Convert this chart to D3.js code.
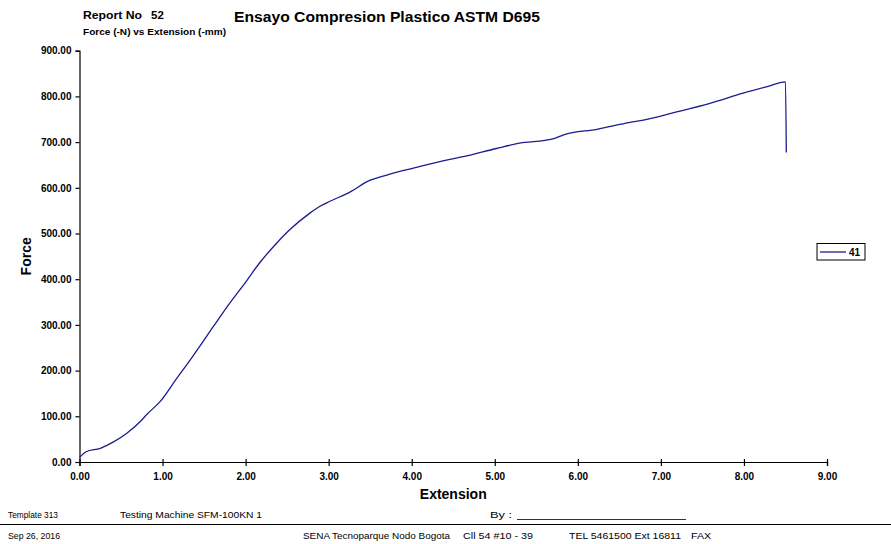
<!DOCTYPE html>
<html>
<head>
<meta charset="utf-8">
<script src="https://cdn.jsdelivr.net/npm/d3@7"></script>
<style>
  body { margin: 0; background: #fff; }
  svg { display: block; font-family: "Liberation Sans", Arial, sans-serif; }
  .tick text { font-weight: bold; font-size: 10px; fill: #000; }
  .domain, .tick line { stroke: #000; stroke-width: 1.2; }
  .foot { font-size: 9px; fill: #000; }
</style>
</head>
<body>
<div class="chart"></div>
<script>
// test 41
const extension = [0, 0.08, 0.25, 0.41, 0.57, 0.75, 0.81, 0.97, 1.16, 1.37, 1.61, 1.77, 2.01, 2.17, 2.37, 2.53, 2.77, 2.89, 3.01, 3.26, 3.48, 3.70, 4.02, 4.46, 4.62, 5.02, 5.28, 5.70, 5.83, 6.23, 6.63, 6.79, 7.19, 7.59, 7.99, 8.27, 8.50, 8.51];
const force = [10, 22.5, 30, 44, 63, 92, 104, 132, 180, 233, 296, 338, 396, 436, 478, 508, 544, 559, 570, 591, 615, 628, 643, 662, 668, 686, 697, 707, 716, 728, 743, 748, 766, 785, 807, 821, 832, 677];
const seriesName = "41";
const xTicks = [0, 1, 2, 3, 4, 5, 6, 7, 8, 9];
const yTicks = [0, 100, 200, 300, 400, 500, 600, 700, 800, 900];

const width = 891, height = 544;
const margin = { top: 50.7, right: 64, bottom: 82, left: 79.5 };
const lineColor = "#1c1c8e";

const svg = d3.select(".chart")
  .append("svg")
  .attr("width", width)
  .attr("height", height);

const xScale = d3.scaleLinear()
  .domain([0, 9])
  .range([margin.left, width - margin.right]);

const yScale = d3.scaleLinear()
  .domain([0, 900])
  .range([height - margin.bottom, margin.top]);

//Header texts
svg.append("text")
  .attr("x", 83).attr("y", 19)
  .attr("font-weight", "bold").attr("font-size", 11.5)
  .attr("textLength", 59).attr("lengthAdjust", "spacingAndGlyphs")
  .text("Report No");
svg.append("text")
  .attr("x", 151).attr("y", 19)
  .attr("font-weight", "bold").attr("font-size", 11.5)
  .text("52");
svg.append("text")
  .attr("x", 234).attr("y", 22)
  .attr("font-weight", "bold").attr("font-size", 14)
  .attr("textLength", 306).attr("lengthAdjust", "spacingAndGlyphs")
  .text("Ensayo Compresion Plastico ASTM D695");
svg.append("text")
  .attr("x", 83).attr("y", 35)
  .attr("font-weight", "bold").attr("font-size", 8.5)
  .attr("textLength", 143).attr("lengthAdjust", "spacingAndGlyphs")
  .text("Force (-N) vs Extension (-mm)");

//Axes
const xAxis = d3.axisBottom(xScale)
  .tickValues(xTicks)
  .tickFormat(d3.format(".2f"))
  .tickSizeInner(4).tickSizeOuter(4)
  .tickPadding(7);

const yAxis = d3.axisLeft(yScale)
  .tickValues(yTicks)
  .tickFormat(d3.format(".2f"))
  .tickSizeInner(4).tickSizeOuter(4)
  .tickPadding(4);

const xAxisGroup = svg.append("g")
  .attr("transform", `translate(0, ${height - margin.bottom})`)
  .call(xAxis);
xAxisGroup.selectAll(".tick line").attr("y1", -3);

svg.append("g")
  .attr("transform", `translate(${margin.left}, 0)`)
  .call(yAxis);

svg.append("text")
  .attr("x", (margin.left + width - margin.right) / 2)
  .attr("y", 499)
  .attr("text-anchor", "middle")
  .attr("font-weight", "bold").attr("font-size", 14)
  .text("Extension");

svg.append("text")
  .attr("transform", `translate(31, ${(margin.top + height - margin.bottom) / 2}) rotate(-90)`)
  .attr("text-anchor", "middle")
  .attr("font-weight", "bold").attr("font-size", 14)
  .text("Force");

//Curve
const points = extension.map((e, i) => [e, force[i]]);
const line = d3.line()
  .curve(d3.curveMonotoneX)
  .x(d => xScale(d[0]))
  .y(d => yScale(d[1]));

svg.append("path")
  .datum(points)
  .attr("fill", "none")
  .attr("stroke", lineColor)
  .attr("stroke-width", 1.3)
  .attr("stroke-linejoin", "round")
  .attr("d", line);

//Legend
const legend = svg.append("g").attr("transform", "translate(817, 243.5)");
legend.append("rect")
  .attr("width", 48).attr("height", 16.5)
  .attr("fill", "#fff").attr("stroke", "#000").attr("stroke-width", 1);
legend.append("line")
  .attr("x1", 3).attr("x2", 29)
  .attr("y1", 8.5).attr("y2", 8.5)
  .attr("stroke", lineColor).attr("stroke-width", 1.3);
legend.append("text")
  .attr("x", 32).attr("y", 12)
  .attr("font-weight", "bold").attr("font-size", 10)
  .text(seriesName);

//Footer
const foot = [
  { x: 8, y: 518, w: 50, t: "Template 313" },
  { x: 120, y: 518, w: 142, t: "Testing Machine SFM-100KN 1" },
  { x: 490, y: 518, w: 22, t: "By :" },
  { x: 8, y: 539, w: 52, t: "Sep 26, 2016" },
  { x: 303, y: 539, w: 147, t: "SENA Tecnoparque Nodo Bogota" },
  { x: 463, y: 539, w: 70, t: "Cll 54 #10 - 39" },
  { x: 569, y: 539, w: 112, t: "TEL 5461500 Ext 16811" },
  { x: 691, y: 539, w: 20, t: "FAX" }
];
svg.selectAll(".foot")
  .data(foot)
  .join("text")
  .attr("class", "foot")
  .attr("x", d => d.x).attr("y", d => d.y)
  .attr("textLength", d => d.w).attr("lengthAdjust", "spacingAndGlyphs")
  .text(d => d.t);

svg.append("line")
  .attr("x1", 517).attr("x2", 686)
  .attr("y1", 519.5).attr("y2", 519.5)
  .attr("stroke", "#000").attr("stroke-width", 0.8);
svg.append("line")
  .attr("x1", 0).attr("x2", width)
  .attr("y1", 524.5).attr("y2", 524.5)
  .attr("stroke", "#000").attr("stroke-width", 1);
</script>
</body>
</html>
